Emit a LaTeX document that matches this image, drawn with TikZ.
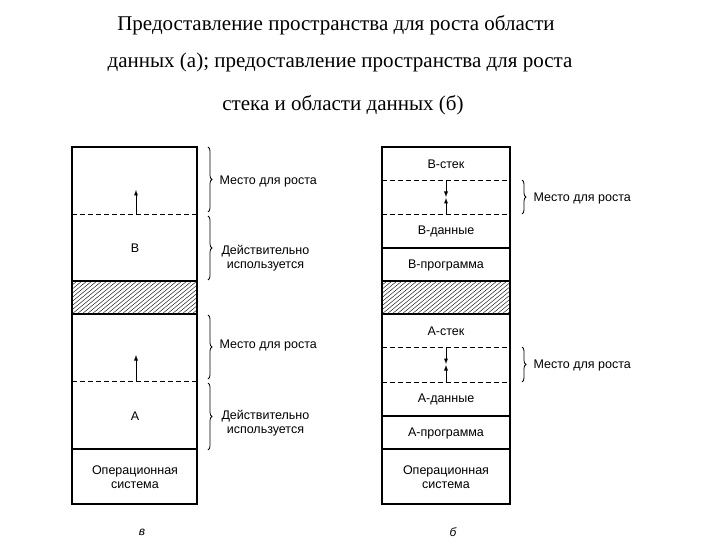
\documentclass[tikz,border=0pt]{standalone}
\usepackage{fontspec}
\setmainfont{Liberation Serif}
\newfontfamily\lab{Liberation Sans}
\usetikzlibrary{decorations.pathreplacing}
\begin{document}
\begin{tikzpicture}[x=1pt,y=-1pt,
 mybox/.style={draw,line width=1.1pt},
 mydln/.style={line width=0.9pt,dash pattern=on 5pt off 3pt},
 myarr/.style={-latex,line width=0.9pt},
 mybr/.style={decorate,decoration={brace,amplitude=4pt},line width=0.8pt},
 mylt/.style={font=\lab\fontsize{12.5}{14}\selectfont,align=center},
 myside/.style={font=\lab\fontsize{12.5}{14}\selectfont,align=center,anchor=west},
 mytitle/.style={font=\fontsize{21}{24}\selectfont}]
\useasboundingbox (0,0) rectangle (720,540);
\node[mytitle] (t1) at (336,25) {Предоставление пространства для роста области};
\node[mytitle] (t2) at (340,62) {данных (а); предоставление пространства для роста};
\node[mytitle] (t3) at (343,105) {стека и области данных (б)};
% hatched regions
\foreach \xa/\xb in {72/197,382/510}{
 \begin{scope}
 \clip (\xa,281) rectangle (\xb,314);
 \foreach \k in {0,5,...,180}{\draw[line width=0.4pt] (\xa+\k-40,314) -- (\xa+\k,281);}
 \end{scope}}
% left column
\draw[mybox] (72,147) rectangle (197,504);
\draw[mybox] (72,281) -- (197,281) (72,314) -- (197,314) (72,449) -- (197,449);
\draw[mydln] (72,214) -- (197,214) (72,381) -- (197,381);
\coordinate (l1) at (136,214); \coordinate (l1e) at (136,190);
\coordinate (l2) at (136,381); \coordinate (l2e) at (136,355);
\draw[myarr] (l1) -- (l1e);
\draw[myarr] (l2) -- (l2e);
\node[mylt] (B) at (135,248) {В};
\node[mylt] (A) at (135,416) {А};
\node[mylt] (os1) at (135,477) {Операционная\\система};
\draw[mybr] (208,147) -- (208,212);
\draw[mybr] (208,216) -- (208,280);
\draw[mybr] (208,315) -- (208,379);
\draw[mybr] (208,383) -- (208,450);
\node[myside] (m1) at (216,181) {Место для роста};
\node[myside] (d1) at (218,258) {Действительно\\используется};
\node[myside] (m2) at (216,345) {Место для роста};
\node[myside] (d2) at (218,423) {Действительно\\используется};
\node[font=\lab\itshape\fontsize{12}{14}\selectfont] (ca) at (142,532) {в};
% right column
\draw[mybox] (382,147) rectangle (510,504);
\draw[mybox] (382,248) -- (510,248) (382,281) -- (510,281) (382,314) -- (510,314) (382,416) -- (510,416) (382,449) -- (510,449);
\draw[mydln] (382,180) -- (510,180) (382,214) -- (510,214) (382,347) -- (510,347) (382,382) -- (510,382);
\coordinate (r1) at (446,180); \coordinate (r1e) at (446,197);
\coordinate (r2) at (446,214); \coordinate (r2e) at (446,198);
\coordinate (r3) at (446,347); \coordinate (r3e) at (446,364);
\coordinate (r4) at (446,382); \coordinate (r4e) at (446,365);
\draw[myarr] (r1) -- (r1e); \draw[myarr] (r2) -- (r2e);
\draw[myarr] (r3) -- (r3e); \draw[myarr] (r4) -- (r4e);
\node[mylt] (bs) at (446,164) {В-стек};
\node[mylt] (bd) at (446,231) {В-данные};
\node[mylt] (bp) at (446,265) {В-программа};
\node[mylt] (as) at (446,331) {А-стек};
\node[mylt] (ad) at (446,399) {А-данные};
\node[mylt] (ap) at (446,433) {А-программа};
\node[mylt] (os2) at (446,477) {Операционная\\система};
\draw[mybr] (522,180) -- (522,214);
\draw[mybr] (522,347) -- (522,382);
\node[myside] (m3) at (530,198) {Место для роста};
\node[myside] (m4) at (530,365) {Место для роста};
\node[font=\lab\itshape\fontsize{12}{14}\selectfont] (cb) at (453,532) {б};
\end{tikzpicture}
\end{document}
